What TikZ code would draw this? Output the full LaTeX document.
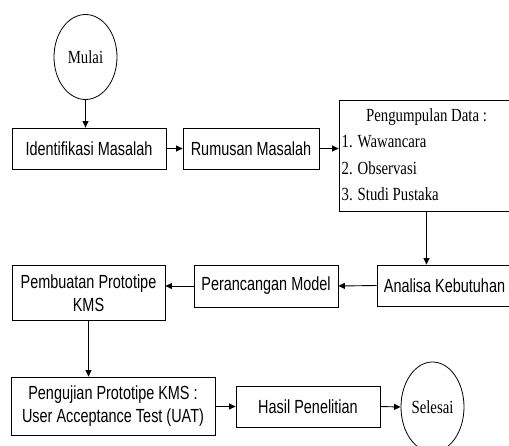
\documentclass[tikz,border=0pt]{standalone}
\usepackage{fontspec}
\setmainfont{Liberation Serif}[FakeStretch=0.8]
\newfontfamily\sansc{Liberation Sans}[FakeStretch=0.76]
\usetikzlibrary{shapes, positioning, arrows.meta, calc}

\tikzset{
	proses/.style={draw, line width=0.8pt, font=\sansc\fontsize{19}{22.5}\selectfont, align=center, inner sep=0pt},
	terminal/.style={draw, ellipse, line width=0.8pt, font=\fontsize{18.5}{22}\selectfont, inner sep=0pt},
	teks/.style={font=\fontsize{18.5}{22}\selectfont, inner sep=0pt},
	panah/.style={line width=0.9pt, -{Triangle[length=6.5pt, width=6pt]}}
}

\begin{document}
\begin{tikzpicture}[x=1pt, y=-1pt]
			\clip (0,0) rectangle (509,445);
			
			% Start
			\node[terminal, minimum width=63pt, minimum height=85pt] (mulai) at (85.5,57) {Mulai};
			
			% First row
			\node[proses, minimum width=154pt, minimum height=41pt] (identifikasi) at (89,148.5) {Identifikasi Masalah};
			\node[proses, minimum width=136pt, minimum height=41pt] (rumusan) at (251,148.5) {Rumusan Masalah};
			\node[draw, line width=0.8pt, minimum width=175pt, minimum height=111pt, inner sep=0pt] (data) at (426.5,155.5) {};
			\node[teks, anchor=base] (datajudul) at (426.5,121.7) {Pengumpulan Data :};
			\node[teks, anchor=base west] (data1) at (341.5,147) {1. Wawancara};
			\node[teks, anchor=base west] (data2) at (341.5,174) {2. Observasi};
			\node[teks, anchor=base west] (data3) at (341.5,200) {3. Studi Pustaka};
			
			% Second row
			\node[proses, minimum width=135pt, minimum height=41pt] (analisa) at (444.5,285.5) {Analisa Kebutuhan};
			\node[proses, minimum width=144pt, minimum height=42pt] (perancangan) at (266,286) {Perancangan Model};
			\node[proses, minimum width=153pt, minimum height=55pt] (pembuatan) at (88.5,293) {Pembuatan Prototipe\\KMS};
			
			% Third row
			\node[proses, minimum width=204pt, minimum height=58pt] (pengujian) at (113,406) {Pengujian Prototipe KMS :\\User Acceptance Test (UAT)};
			\node[proses, minimum width=144pt, minimum height=41pt] (hasil) at (308,406.5) {Hasil Penelitian};
			\node[terminal, minimum width=63pt, minimum height=90pt] (selesai) at (432.5,407) {Selesai};
			
			% Arrows
			\draw[panah] (mulai.south) -- (mulai.south |- identifikasi.north);
			\draw[panah] (identifikasi.east) -- (rumusan.west);
			\draw[panah] (rumusan.east) -- (rumusan.east -| data.west);
			\draw[panah] (data.south) -- (data.south |- analisa.north);
			\draw[panah] (analisa.west) -- (perancangan.east);
			\draw[panah] (perancangan.west) -- (perancangan.west -| pembuatan.east);
			\draw[panah] (pembuatan.south) -- (pembuatan.south |- pengujian.north);
			\draw[panah] (pengujian.east |- hasil.west) -- (hasil.west);
			\draw[panah] (hasil.east) -- (selesai.west);
			
		\end{tikzpicture}
\end{document}
